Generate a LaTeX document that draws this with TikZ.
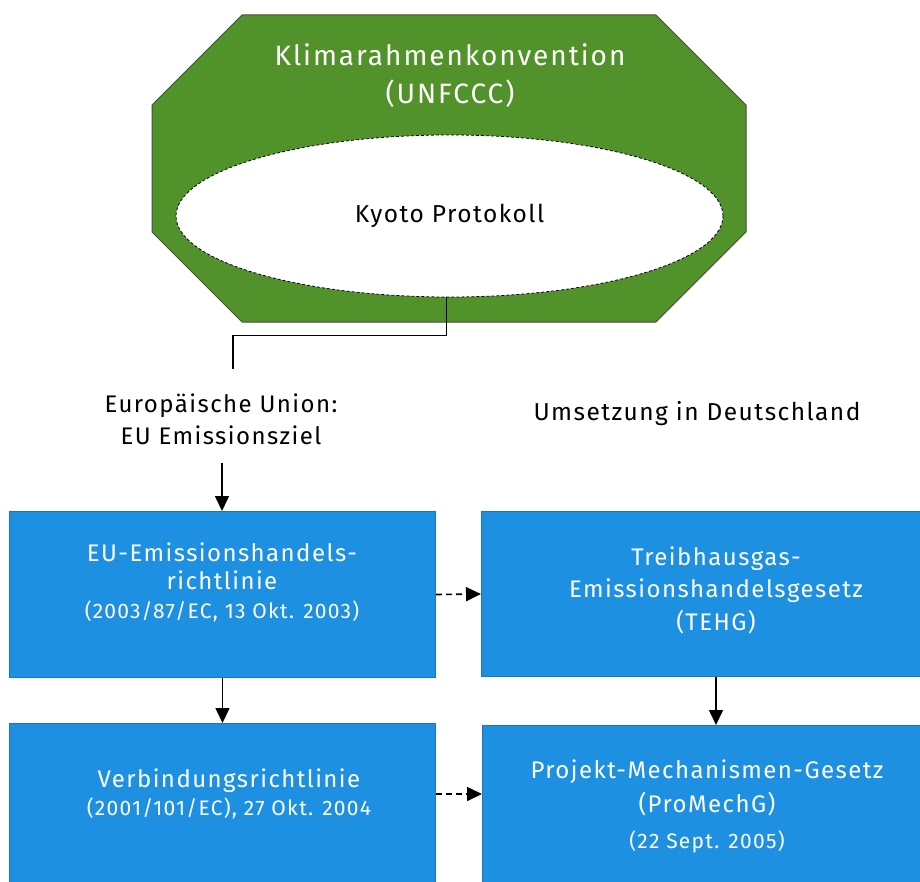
\documentclass[tikz,border=0pt]{standalone}
\usepackage{fontspec}
\setmainfont[LetterSpace=6]{Fira Sans}
\newfontfamily\titlefont[LetterSpace=7]{Fira Sans}
\usetikzlibrary{arrows.meta,shapes.geometric}
\definecolor{octgreen}{RGB}{82,146,42}
\definecolor{octedge}{RGB}{70,80,60}
\definecolor{boxblue}{RGB}{30,144,226}
\definecolor{boxedge}{RGB}{24,118,196}
\begin{document}
\begin{tikzpicture}[x=1pt,y=-1pt,
  bluebox/.style={draw=boxedge, fill=boxblue, line width=1pt, rectangle, anchor=north west, inner sep=0pt},
  boxtext/.style={text=white, align=center, inner sep=0pt},
  blacktext/.style={text=black, align=center, inner sep=0pt},
  conn/.style={draw=black, line width=1.6pt},
  arr/.style={conn, -{Triangle[length=15pt,width=14pt]}},
  dasharr/.style={arr, dash pattern=on 6pt off 4pt}]
\useasboundingbox (0,0) rectangle (920,882);
\fill[white] (0,0) rectangle (920,882);
\begin{scope}
\clip (0,0) rectangle (920,882);
% octagon
\draw[fill=octgreen, draw=octedge, line width=1pt]
  (242,15) -- (656,15) -- (746,105) -- (746,232) -- (656,322) -- (242,322) -- (152,232) -- (152,105) -- cycle;
\node[text=white, align=center, font=\titlefont\fontsize{28}{38}\selectfont, inner sep=0pt] (unfccc) at (450,76) {Klimarahmenkonvention\\(UNFCCC)};
\node[ellipse, fill=white, draw=black, line width=0.8pt, dash pattern=on 3pt off 2pt, minimum width=547pt, minimum height=162pt, inner sep=0pt, font=\fontsize{24.5}{28}\selectfont] (kyoto) at (449.5,216) {Kyoto Protokoll};
% labels
\node[blacktext, font=\fontsize{24}{32}\selectfont] (eu) at (221,419) {Europäische Union:\\EU Emissionsziel};
\node[blacktext, font=\fontsize{24.5}{28}\selectfont] (umsetzung) at (697,414) {Umsetzung in Deutschland};
\coordinate (euTop) at (233,369);
\coordinate (euBottom) at (222,463);
% boxes
\node[bluebox, minimum width=426pt, minimum height=166pt] (box1) at (9,511) {};
\node[bluebox, minimum width=450pt, minimum height=165pt] (box2) at (481,511) {};
\node[bluebox, minimum width=426pt, minimum height=200pt] (box3) at (9,723) {};
\node[bluebox, minimum width=450pt, minimum height=200pt] (box4) at (482,725) {};
\node[boxtext, font=\fontsize{24}{28.5}\selectfont] (t1) at (222,582) {EU-Emissionshandels-\\richtlinie\\{\fontsize{21}{28.5}\selectfont (2003/87/EC, 13 Okt. 2003)}};
\node[boxtext, font=\fontsize{24}{32.5}\selectfont] (t2) at (716,590) {Treibhausgas-\\Emissionshandelsgesetz\\(TEHG)};
\node[boxtext, font=\fontsize{24}{28}\selectfont] (t3) at (229,794) {Verbindungsrichtlinie\\{\fontsize{21}{28}\selectfont (2001/101/EC), 27 Okt. 2004}};
\node[boxtext, font=\fontsize{24}{34}\selectfont] (t4) at (707,788) {Projekt-Mechanismen-Gesetz\\(ProMechG)};
\node[boxtext, font=\fontsize{21}{24}\selectfont] (t4b) at (707,842) {(22 Sept. 2005)};
% connectors
\draw[conn] ([xshift=-3pt]kyoto.south) -- ++(0,38) -| (euTop);
\draw[arr] (euBottom) -- (euBottom |- box1.north);
\draw[arr] (box1.south) -- (box3.north);
\draw[arr] (t2 |- box2.south) -- (t2 |- box4.north);
\draw[dasharr] (box1.east) -- (box2.west);
\draw[dasharr] (box3.east |- t3) -- (box4.west |- t3);
\end{scope}
\end{tikzpicture}
\end{document}
